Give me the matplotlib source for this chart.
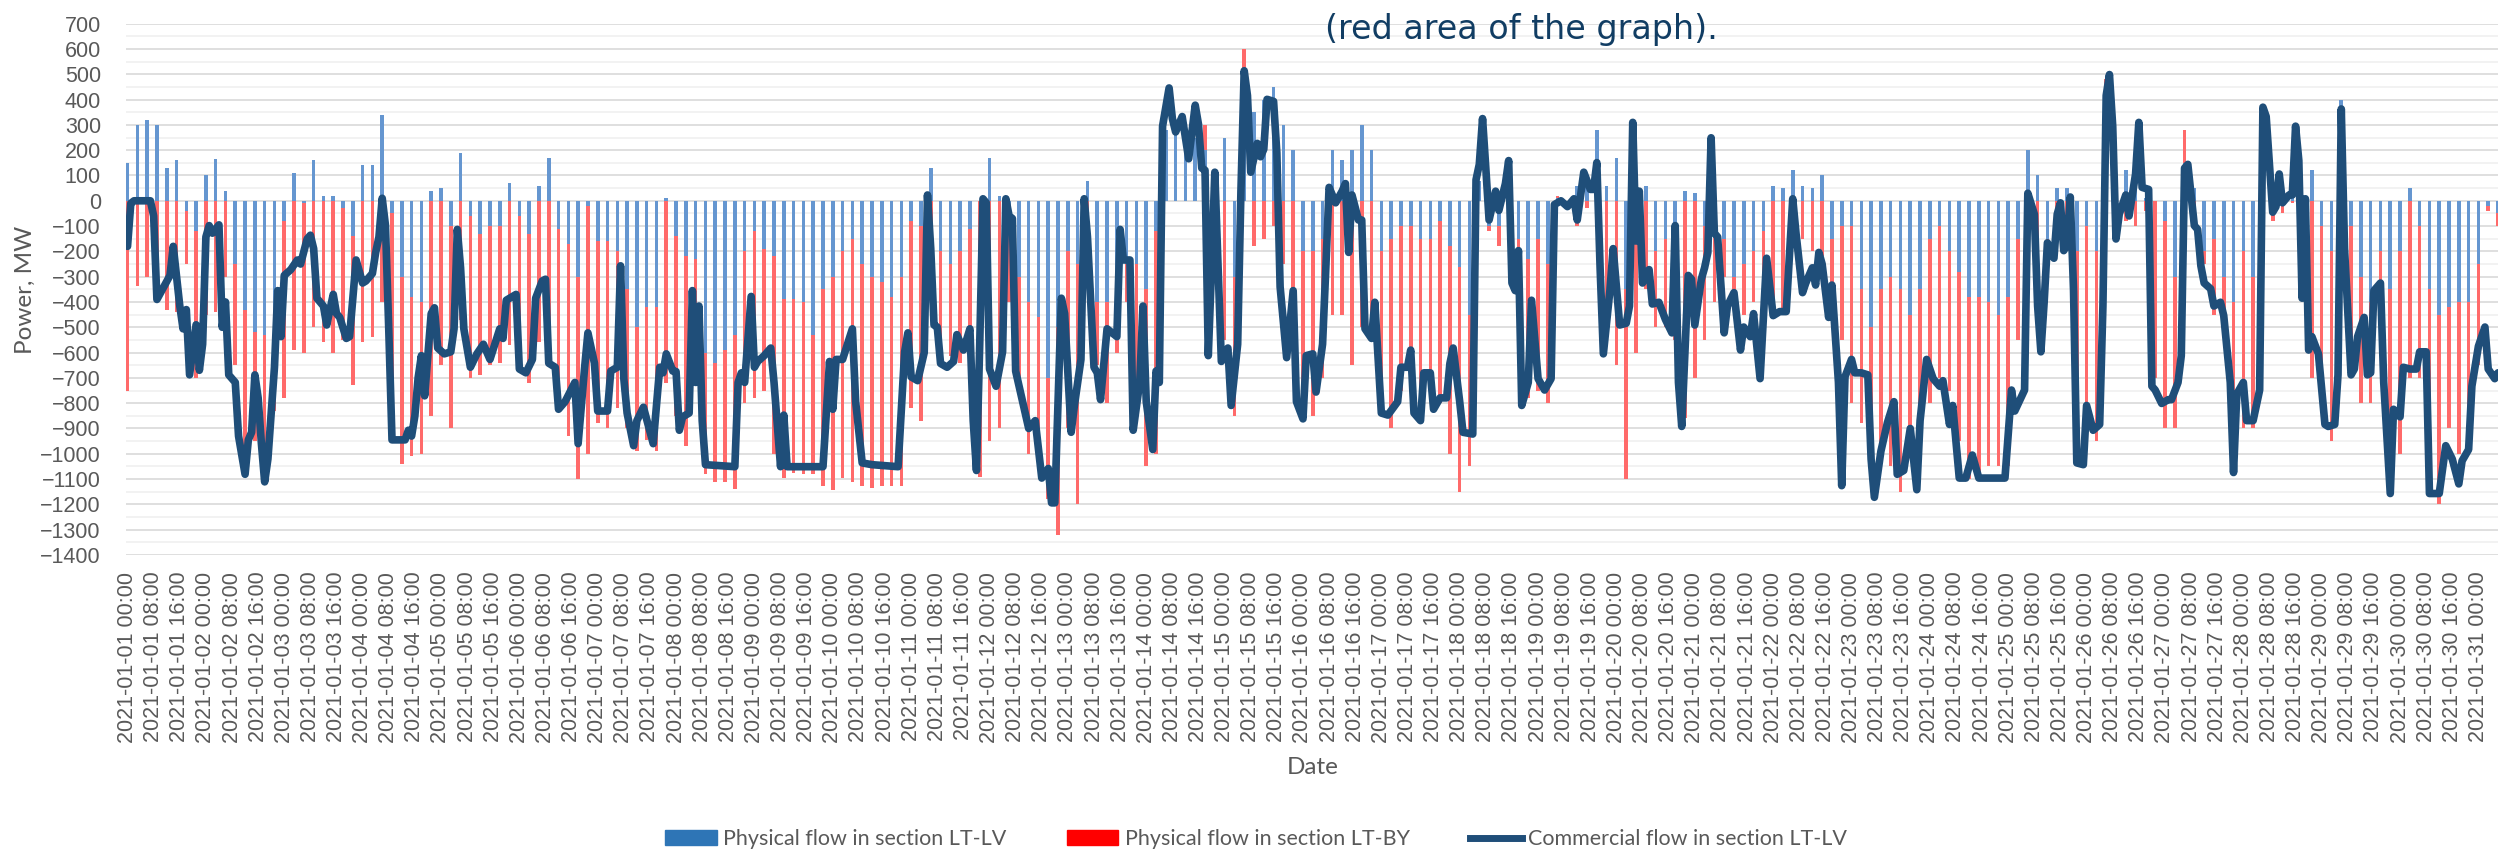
import matplotlib.pyplot as plt
from matplotlib.patches import Patch
from matplotlib.lines import Line2D
import numpy as np
import pandas as pd

# Physical flows, every 3 hours from 2021-01-01 00:00 (MW)
step_h = 3
blue_mw = [150, 300, 320, 300, 130, 160, -40, -120,
           100, 165, 40, -250, -430, -520, -530, -500,
           -80, 110, -10, 160, 20, 20, -30, -140,
           140, 140, 340, -50, -300, -380, -400, 40,
           50, -100, 190, -60, -130, -100, -100, 70,
           -60, -130, 60, 170, -110, -170, -300, -20,
           -160, -160, -200, -350, -500, -420, -420, 10,
           -140, -220, -230, -600, -640, -590, -530, -200,
           -120, -190, -220, -390, -390, -400, -530, -350,
           -300, -200, -150, -250, -300, -320, -380, -300,
           -80, -100, 130, -200, -250, -200, -110, 0,
           170, 20, -90, -300, -400, -460, -700, -500,
           -200, -250, 80, -400, -400, -300, -250, -250,
           -350, -120, 280, 300, 230, 250, 200, 100,
           250, -300, 520, 350, 400, 450, 300, 200,
           -200, -200, -150, 200, 160, 200, 300, 200,
           -200, -150, -100, -100, -150, -150, -80, -180,
           -260, -450, 80, -100, -100, 0, -150, -230,
           -150, -250, 10, 0, 60, 50, 280, 60,
           170, -350, 0, 60, -200, -150, -150, 40,
           30, -100, 30, -150, -300, -250, -200, -120,
           60, 50, 120, 60, 50, 100, -150, -100,
           -100, -350, -500, -350, -300, -350, -450, -350,
           -150, -100, -200, -280, -380, -380, -400, -450,
           -380, -150, 200, 100, -150, 50, 50, -200,
           -100, -200, 300, 60, 120, 80, 10, 0,
           -80, -300, 150, 50, -200, -150, -300, -400,
           -200, -300, 350, 20, -20, 20, -80, 120,
           -100, -200, 400, -100, -300, -400, -200, -350,
           -200, 50, -100, -350, -450, -420, -400, -400,
           -250, -20, -50]

red_mw = [-750, -335, -300, -300, -430, -440, -250, -700,
          -450, -440, -300, -650, -1050, -950, -1050, -830,
          -780, -590, -600, -500, -560, -600, -550, -730,
          -560, -540, -400, -700, -1040, -1010, -1000, -850,
          -650, -900, -470, -700, -690, -650, -640, -570,
          -650, -720, -560, -550, -730, -930, -1100, -1000,
          -880, -900, -820, -900, -990, -945, -990, -720,
          -850, -970, -720, -1080, -1110, -1110, -1140, -800,
          -780, -750, -1000, -1096, -1074, -1080, -1080, -1126,
          -1142, -1096, -1111, -1126, -1134, -1126, -1126, -1126,
          -820, -870, -300, -570, -612, -643, -718, -1090,
          -950, -900, -400, -750, -1000, -980, -1180, -1320,
          -900, -1200, -300, -650, -800, -600, -400, -750,
          -1050, -1000, 220, 250, 200, 200, 300, -200,
          -550, -850, 600, -180, -150, -100, -250, -500,
          -850, -850, -700, -450, -450, -650, -500, -450,
          -850, -900, -750, -700, -850, -750, -800, -1000,
          -1150, -1050, 60, -120, -180, -150, -500, -780,
          -750, -800, 20, -20, -100, -30, 100, -550,
          -650, -1100, -600, -350, -500, -500, -550, -860,
          -700, -550, -400, -300, -400, -450, -400, -550,
          -400, -450, -80, -150, -200, -220, -450, -550,
          -800, -880, -950, -1000, -1050, -1150, -950, -850,
          -800, -700, -750, -950, -1100, -1080, -1050, -1050,
          -1050, -550, -50, -300, -250, -150, -200, -900,
          -800, -950, 480, -50, -80, -100, -40, -700,
          -900, -900, 280, -50, -250, -450, -450, -1050,
          -900, -900, 380, -80, -50, -10, -150, -700,
          -700, -950, 350, -550, -800, -800, -400, -1150,
          -1000, -700, -700, -1150, -1200, -900, -1000, -950,
          -650, -40, -100]

# Commercial flow LT-LV: hour of month, MW
line_hour = [0, 1, 2, 7, 8, 9, 13, 14, 16, 17, 18, 19, 21, 22, 23, 24, 25, 26, 28, 29,
             30, 31, 33, 34, 36, 37, 38, 39, 40, 41, 42, 43, 45, 46, 47, 48, 50, 52, 53, 55,
             56, 57, 58, 60, 61, 63, 64, 65, 67, 68, 69, 70, 72, 73, 75, 76, 77, 78, 79, 80,
             81, 83, 85, 86, 87, 88, 89, 90, 91, 93, 94, 95, 97, 99, 100, 101, 102, 103, 105, 107,
             109, 111, 114, 115, 116, 119, 120, 122, 124, 125, 127, 128, 129, 131, 132, 134, 137, 138, 140, 141,
             143, 144, 147, 148, 150, 151, 152, 153, 155, 156, 158, 161, 163, 164, 165, 167, 168, 169, 170, 172,
             173, 174, 175, 176, 177, 186, 187, 188, 189, 191, 192, 193, 195, 197, 198, 200, 201, 202, 213, 215,
             216, 217, 219, 222, 223, 225, 228, 236, 238, 239, 240, 242, 244, 245, 246, 247, 248, 249, 251, 253,
             254, 256, 258, 259, 260, 261, 262, 263, 264, 266, 268, 269, 270, 271, 272, 274, 276, 278, 280, 282,
             283, 284, 286, 287, 289, 290, 292, 293, 294, 296, 297, 298, 300, 303, 304, 305, 307, 308, 310, 311,
             312, 314, 315, 316, 317, 319, 320, 321, 323, 325, 327, 328, 329, 330, 331, 332, 333, 335, 337, 338,
             340, 341, 342, 343, 344, 346, 347, 348, 349, 351, 352, 353, 355, 357, 358, 360, 361, 363, 364, 366,
             367, 368, 370, 372, 373, 374, 375, 377, 378, 379, 381, 382, 384, 386, 389, 390, 392, 393, 394, 396,
             397, 399, 400, 402, 404, 405, 406, 408, 409, 412, 413, 414, 415, 416, 417, 419, 420, 422, 423, 424,
             425, 426, 427, 429, 430, 432, 434, 436, 437, 439, 441, 443, 444, 446, 448, 449, 450, 451, 452, 454,
             455, 457, 459, 460, 461, 462, 463, 464, 466, 467, 469, 471, 473, 474, 475, 476, 478, 479, 480, 482,
             483, 484, 485, 486, 487, 489, 490, 492, 494, 495, 497, 498, 500, 502, 504, 506, 508, 510, 511, 513,
             514, 516, 517, 518, 519, 521, 522, 524, 525, 526, 528, 529, 531, 533, 534, 535, 537, 539, 541, 542,
             544, 546, 548, 549, 551, 553, 555, 556, 558, 559, 561, 563, 565, 567, 575, 577, 578, 581, 582, 584,
             585, 586, 587, 588, 590, 591, 592, 593, 594, 595, 596, 597, 599, 600, 602, 604, 605, 606, 607, 608,
             609, 610, 612, 613, 615, 616, 617, 619, 620, 621, 623, 625, 626, 628, 629, 630, 631, 633, 634, 635,
             636, 638, 639, 641, 642, 644, 645, 646, 648, 649, 651, 653, 654, 655, 657, 658, 659, 660, 662, 663,
             664, 665, 666, 667, 668, 669, 671, 673, 674, 676, 677, 678, 679, 681, 682, 683, 685, 686, 687, 688,
             690, 691, 693, 694, 696, 697, 699, 701, 702, 704, 705, 708, 710, 712, 714, 715, 717, 718, 720, 722,
             723, 725, 726]
line_mw = [-180, -10, 0, 0, -60, -390, -295, -180, -415, -506, -430, -688, -490, -670, -567, -143, -98, -128, -95, -500,
           -400, -688, -718, -930, -1081, -945, -915, -688, -779, -960, -1111, -1020, -658, -355, -537, -295, -272, -234, -250, -151,
           -136, -189, -385, -416, -491, -370, -446, -461, -544, -537, -385, -234, -325, -317, -287, -204, -143, 10, -98, -506,
           -945, -945, -945, -907, -930, -850, -700, -612, -771, -446, -423, -582, -605, -597, -506, -113, -265, -506, -658, -605,
           -567, -627, -506, -544, -393, -370, -665, -680, -627, -385, -317, -310, -642, -658, -824, -794, -718, -960, -658, -522,
           -642, -831, -831, -673, -658, -257, -703, -839, -968, -869, -816, -960, -658, -680, -605, -673, -675, -907, -854, -839,
           -355, -718, -416, -869, -1043, -1051, -718, -680, -718, -378, -658, -635, -612, -582, -718, -1051, -847, -1051, -1051, -635,
           -824, -627, -627, -506, -794, -1036, -1043, -1051, -597, -522, -696, -711, -600, 23, -189, -491, -499, -643, -658, -635,
           -529, -590, -506, -869, -1066, -567, 8, -8, -665, -733, -597, 8, -60, -70, -673, -786, -900, -869, -1096, -1058,
           -1194, -1194, -385, -446, -915, -809, -627, 8, -143, -658, -680, -786, -506, -537, -113, -234, -234, -907, -718, -416,
           -794, -983, -673, -718, 295, 446, 325, 272, 333, 166, 378, 302, 129, 121, -612, -265, 113, -635, -582, -809,
           -567, 38, 514, 416, 113, 227, 174, 204, 401, 393, 189, -340, -620, -355, -794, -862, -612, -605, -756, -567,
           -265, 53, -8, 38, 68, -204, 23, -76, -76, -506, -544, -401, -839, -847, -794, -658, -658, -590, -839, -869,
           -680, -680, -824, -779, -779, -643, -582, -794, -915, -922, 83, 144, 325, 129, -76, 38, -38, 68, 159, -325,
           -355, -197, -809, -718, -393, -703, -748, -703, -15, 0, -23, 8, -76, 113, 45, 45, 151, -265, -605, -355,
           -189, -491, -484, -416, 310, -159, 38, -325, -272, -408, -401, -469, -522, -98, -718, -892, -295, -310, -491, -310,
           -265, -204, 249, -128, -143, -522, -416, -363, -590, -499, -537, -446, -703, -227, -454, -438, -438, 8, -128, -363,
           -325, -265, -333, -204, -250, -461, -333, -718, -1126, -696, -627, -680, -680, -688, -1021, -1172, -990, -877, -794, -1081,
           -1066, -900, -1142, -869, -627, -703, -733, -711, -884, -809, -1096, -1096, -1005, -1096, -1096, -748, -831, -748, 30, -53,
           -416, -597, -401, -166, -227, -53, -8, -197, -174, 15, -355, -1036, -1043, -809, -907, -884, -416, 416, 499, 295,
           -151, -53, 23, -60, 106, 310, 53, 45, -733, -748, -801, -786, -786, -718, -612, 129, 144, -98, -113, -257,
           -325, -348, -416, -401, -454, -718, -1074, -764, -718, -869, -869, -748, 370, 333, -45, -23, 106, -8, 23, 23,
           295, 159, -385, 8, -590, -537, -605, -884, -892, -884, -688, 363, -189, -688, -665, -537, -461, -688, -680, -355,
           -325, -718, -1157, -824, -854, -658, -665, -665, -597, -597, -1157, -1157, -968, -1021, -1119, -1028, -983, -733, -575, -499,
           -665, -703, -680]

tick_labels = pd.date_range('2021-01-01 00:00', '2021-01-31 00:00', freq='8h').strftime('%Y-%m-%d %H:%M')

bar_hour = np.arange(len(blue_mw)) * step_h

fig = plt.figure(figsize=(24.98, 8.49), dpi=100)
ax = fig.add_axes([0.0504, 0.3463, 0.9496, 0.6258])

# red first, blue drawn over it (as in the source chart)
ax.bar(bar_hour, red_mw, width=1.1, color='#ff6a6a', linewidth=0, zorder=2)
ax.bar(bar_hour, blue_mw, width=1.1, color='#6596d0', linewidth=0, zorder=3)
ax.plot(line_hour, line_mw, color='#1f4e79', linewidth=5.5, solid_joinstyle='round',
        solid_capstyle='round', zorder=4)

ax.set_xlim(-0.5, 726.0)
ax.set_ylim(-1400, 700)
ax.set_yticks(np.arange(-1400, 701, 100))
ax.set_yticks(np.arange(-1350, 700, 100), minor=True)
ax.set_xticks(np.arange(len(tick_labels)) * 8)
ax.set_xticklabels(tick_labels, rotation=90, fontfamily='Liberation Sans', fontsize=15.5, color='#595959')
for lab in ax.get_yticklabels():
    lab.set_fontfamily('Liberation Sans')
    lab.set_fontsize(15.5)
    lab.set_color('#595959')
ax.tick_params(axis='both', which='both', length=0)
ax.tick_params(axis='y', pad=18)
ax.tick_params(axis='x', pad=12)

ax.grid(axis='y', which='major', color='#d9d9d9', linewidth=1.2, zorder=0)
ax.grid(axis='y', which='minor', color='#f0f0f0', linewidth=1.2, zorder=0)
ax.set_axisbelow(True)
for s in ax.spines.values():
    s.set_visible(False)

fig.text(25 / 2498, 1 - 290 / 849, 'Power, MW', rotation=90, ha='center', va='center',
         fontfamily='Lato', fontsize=17.5, color='#595959')
fig.text(1313 / 2498, 1 - 768 / 849, 'Date', ha='center', va='center',
         fontfamily='Lato', fontsize=17.5, color='#595959')
fig.text(1521 / 2498, 1 - 39 / 849, '(red area of the graph).', ha='center', va='baseline',
         fontfamily='DejaVu Sans', fontsize=24, color='#113d63')

handles = [Patch(color='#2e75b6', label='Physical flow in section LT-LV'),
           Patch(color='#ff0000', label='Physical flow in section LT-BY'),
           Line2D([], [], color='#1f4e79', linewidth=5, label='Commercial flow in section LT-LV')]
leg = fig.legend(handles=handles, loc='center', bbox_to_anchor=(1256 / 2498, 1 - 839 / 849), ncol=3,
                 frameon=False, handlelength=2.4, handleheight=0.65, handletextpad=0.3, columnspacing=2.8,
                 prop={'family': 'Lato', 'size': 15.5})
for t in leg.get_texts():
    t.set_color('#595959')

fig.savefig('out.png', dpi=100)
